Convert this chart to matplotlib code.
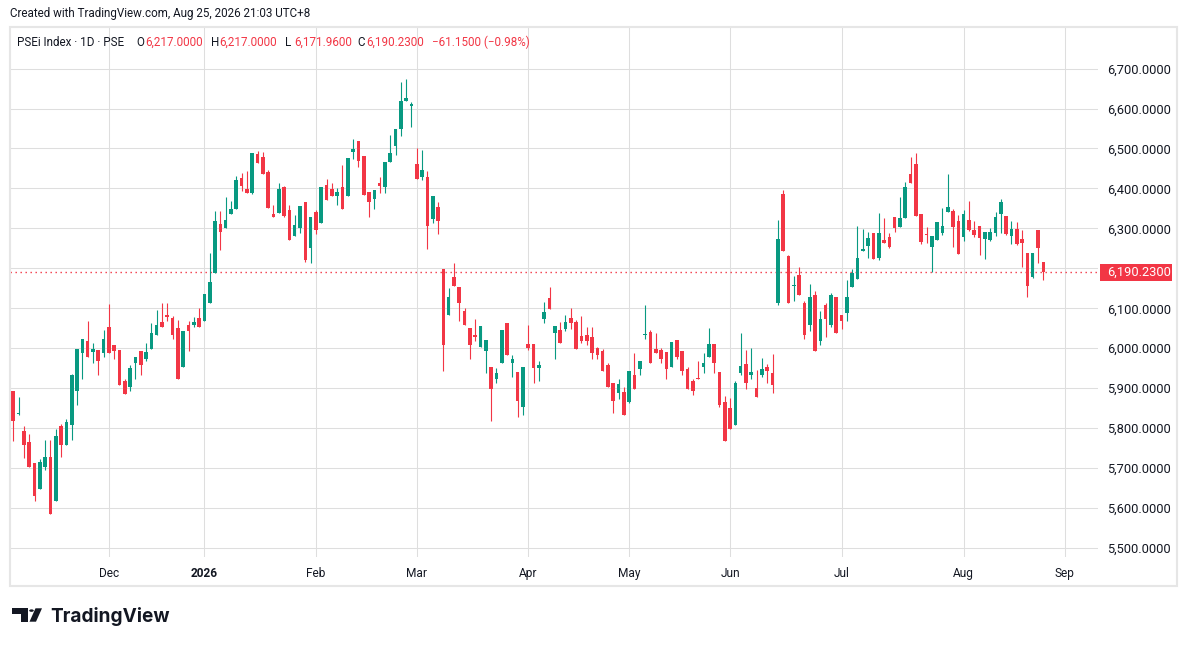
import numpy as np
import pandas as pd
import matplotlib
matplotlib.use("Agg")
import matplotlib.pyplot as plt
from matplotlib.patches import Rectangle, Polygon, Circle
from matplotlib.transforms import blended_transform_factory

# daily candles, PSEi, 5 Nov 2025 .. 25 Aug 2026
opens = [
    5893, 5836, 5793, 5766, 5713, 5647, 5704, 5728, 5617, 5806,
    5757, 5807, 5894, 5987, 6018, 5990, 5996, 5987, 6053, 6008,
    5996, 5918, 5904, 5964, 5993, 5974, 5999, 6034, 6066, 6084,
    6076, 6051, 5952, 6058, 6059, 6076, 6067, 6114, 6189, 6311,
    6302, 6337, 6349, 6426, 6398, 6389, 6486, 6478, 6441, 6336,
    6339, 6403, 6346, 6282, 6301, 6366, 6252, 6341, 6314, 6408,
    6398, 6382, 6403, 6382, 6492, 6519, 6481, 6391, 6374, 6413,
    6404, 6467, 6506, 6548, 6619, 6607, 6461, 6429, 6428, 6324,
    6354, 6198, 6084, 6178, 6153, 6093, 6051, 6034, 6004, 5994,
    5953, 5922, 5962, 6063, 5964, 5941, 5852, 6010, 6011, 5950,
    6074, 6126, 6037, 6046, 6048, 6076, 6066, 6031, 6033, 6028,
    6001, 5993, 5959, 5914, 5887, 5891, 5866, 5932, 5947, 6033,
    6041, 5999, 5996, 5991, 5954, 6021, 5993, 5949, 5917, 5923,
    5954, 5979, 6011, 5940, 5866, 5851, 5809, 5939, 5961, 5932,
    5901, 5934, 5953, 5938, 6114, 6386, 6232, 6156, 6184, 6112,
    6057, 6132, 6019, 6109, 6057, 6129, 6084, 6087, 6154, 6174,
    6244, 6257, 6288, 6227, 6272, 6278, 6328, 6304, 6327, 6436,
    6461, 6336, 6286, 6254, 6272, 6289, 6342, 6343, 6318, 6279,
    6321, 6296, 6306, 6274, 6272, 6289, 6337, 6332, 6282, 6298,
    6273, 6238, 6179, 6296, 6217,
]
highs = [
    5893, 5878, 5806, 5786, 5713, 5723, 5771, 5771, 5798, 5811,
    5823, 5936, 5998, 6023, 6068, 6013, 5996, 6046, 6111, 6008,
    5996, 5924, 5957, 5978, 5993, 6013, 6064, 6096, 6113, 6113,
    6081, 6071, 6043, 6067, 6078, 6101, 6136, 6238, 6343, 6343,
    6378, 6368, 6431, 6438, 6443, 6488, 6493, 6491, 6446, 6358,
    6413, 6406, 6358, 6333, 6356, 6366, 6328, 6346, 6403, 6423,
    6413, 6401, 6458, 6476, 6523, 6519, 6481, 6391, 6396, 6429,
    6466, 6534, 6548, 6666, 6673, 6616, 6501, 6496, 6443, 6381,
    6366, 6198, 6151, 6213, 6153, 6101, 6051, 6073, 6055, 6020,
    5953, 5951, 6046, 6063, 5982, 5941, 5952, 6058, 6011, 5969,
    6116, 6153, 6056, 6066, 6083, 6101, 6071, 6081, 6053, 6053,
    6003, 5998, 5962, 5914, 5922, 5902, 5944, 5989, 5969, 6109,
    6046, 6037, 6001, 5991, 6016, 6021, 5993, 5952, 5922, 5969,
    5988, 6051, 6011, 5940, 5881, 5876, 5918, 6038, 5996, 6001,
    5946, 5976, 5961, 5986, 6321, 6396, 6234, 6182, 6204, 6117,
    6162, 6144, 6094, 6114, 6137, 6129, 6084, 6172, 6199, 6306,
    6299, 6291, 6288, 6338, 6326, 6288, 6328, 6378, 6416, 6478,
    6488, 6336, 6303, 6281, 6316, 6351, 6436, 6348, 6333, 6346,
    6368, 6318, 6306, 6291, 6301, 6341, 6373, 6332, 6318, 6316,
    6296, 6238, 6238, 6296, 6217,
]
lows = [
    5767, 5832, 5726, 5704, 5617, 5647, 5694, 5584, 5617, 5727,
    5757, 5771, 5857, 5922, 5977, 5962, 5932, 5977, 5989, 5974,
    5907, 5886, 5892, 5924, 5932, 5967, 5999, 6034, 6054, 6067,
    6022, 5922, 5952, 5992, 6052, 6052, 6067, 6114, 6189, 6247,
    6302, 6337, 6349, 6394, 6389, 6386, 6464, 6437, 6352, 6329,
    6339, 6328, 6272, 6282, 6289, 6217, 6214, 6286, 6314, 6372,
    6382, 6359, 6349, 6382, 6474, 6454, 6384, 6329, 6349, 6389,
    6389, 6467, 6484, 6532, 6619, 6554, 6424, 6422, 6249, 6314,
    6287, 5942, 6084, 6157, 6069, 6059, 5972, 6017, 6002, 5937,
    5819, 5914, 5962, 5984, 5929, 5827, 5832, 5995, 5914, 5919,
    6064, 6097, 5974, 6012, 6044, 6047, 5998, 6014, 6009, 5972,
    5972, 5944, 5902, 5837, 5872, 5834, 5864, 5899, 5932, 6023,
    5962, 5987, 5962, 5922, 5954, 5972, 5932, 5897, 5882, 5922,
    5939, 5979, 5937, 5854, 5769, 5799, 5807, 5932, 5899, 5924,
    5879, 5929, 5914, 5887, 6107, 6244, 6114, 6119, 6134, 6022,
    6042, 5992, 6007, 6027, 6052, 6037, 6047, 6069, 6154, 6174,
    6244, 6227, 6224, 6222, 6264, 6252, 6292, 6304, 6327, 6414,
    6332, 6262, 6264, 6192, 6272, 6284, 6342, 6254, 6237, 6269,
    6294, 6279, 6234, 6224, 6269, 6282, 6289, 6284, 6262, 6259,
    6204, 6127, 6177, 6214, 6171.96,
]
closes = [
    5819, 5838, 5759, 5704, 5629, 5716, 5728, 5584, 5781, 5757,
    5816, 5933, 5998, 6023, 5977, 5997, 5969, 6023, 5989, 5994,
    5907, 5886, 5951, 5978, 5959, 5991, 6038, 6058, 6054, 6079,
    6032, 5922, 6043, 6042, 6066, 6052, 6136, 6166, 6318, 6292,
    6321, 6348, 6421, 6407, 6389, 6488, 6464, 6437, 6352, 6329,
    6398, 6331, 6272, 6308, 6356, 6222, 6328, 6297, 6403, 6372,
    6382, 6391, 6349, 6476, 6498, 6469, 6384, 6367, 6396, 6407,
    6466, 6488, 6548, 6618, 6626, 6611, 6424, 6446, 6307, 6381,
    6319, 6007, 6128, 6157, 6114, 6059, 6007, 6027, 6055, 6020,
    5899, 5938, 6046, 5984, 5973, 5869, 5952, 6000, 5950, 5958,
    6091, 6097, 6056, 6012, 6066, 6064, 5998, 6017, 6018, 5989,
    5984, 5944, 5902, 5867, 5911, 5834, 5944, 5899, 5969, 6036,
    5962, 5987, 5972, 5947, 6016, 5977, 5942, 5897, 5894, 5922,
    5963, 6011, 5964, 5859, 5769, 5799, 5913, 5956, 5912, 5941,
    5879, 5948, 5942, 5909, 6273, 6244, 6114, 6158, 6134, 6034,
    6129, 5992, 6074, 6072, 6134, 6037, 6069, 6127, 6189, 6227,
    6249, 6277, 6224, 6288, 6264, 6254, 6302, 6326, 6403, 6414,
    6332, 6267, 6283, 6281, 6316, 6306, 6353, 6304, 6237, 6336,
    6297, 6283, 6277, 6291, 6291, 6328, 6366, 6287, 6298, 6262,
    6264, 6157, 6238, 6252, 6190.23,
]

# PSE market holidays in the window
holidays = [
    "2025-12-08", "2025-12-24", "2025-12-25", "2025-12-30", "2025-12-31",
    "2026-01-01", "2026-02-17", "2026-03-20", "2026-04-02", "2026-04-03",
    "2026-04-09", "2026-05-01", "2026-05-27", "2026-06-12", "2026-08-21",
    "2026-08-31",
]
price_levels = [5500, 5600, 5700, 5800, 5900, 6000, 6100, 6200,
                6300, 6400, 6500, 6600, 6700]

title = "PSEi Index \u00b7 1D \u00b7 PSE"
created = "Created with TradingView.com, Aug 25, 2026 21:03 UTC+8"
change_txt = "\u221261.1500 (\u22120.98%)"

GREEN = "#089981"
RED = "#F23645"
TXT = "#131722"
GRID = "#dedede"

W, H = 1187, 646
plt.rcParams["font.family"] = ["Roboto", "DejaVu Sans"]

dates = pd.bdate_range("2025-11-05", "2026-09-30")
dates = dates[~dates.isin(pd.to_datetime(holidays))]

o = np.array(opens, dtype=float)
h = np.array(highs, dtype=float)
l = np.array(lows, dtype=float)
c = np.array(closes, dtype=float)
x = np.arange(len(o))

fig = plt.figure(figsize=(W / 100, H / 100), dpi=100)
fig.patch.set_facecolor("white")

# pane in pixels: x 10..1098, y 27..557
pl, pr, pt, pb = 10, 1098, 27, 557
ax = fig.add_axes([pl / W, 1 - pb / H, (pr - pl) / W, (pb - pt) / H])
ymin, ymax = 5477.5, 6804
ax.set_xlim(-0.62, 204.3)
ax.set_ylim(ymin, ymax)
for s in ax.spines.values():
    s.set_visible(False)

# month ticks at first trading day of each month
tick_pos, tick_lab, tick_bold = [], [], []
for i in range(1, len(dates)):
    if dates[i].month != dates[i - 1].month and i < 204:
        tick_pos.append(i)
        if dates[i].month == 1:
            tick_lab.append(str(dates[i].year))
            tick_bold.append(True)
        else:
            tick_lab.append(dates[i].strftime("%b"))
            tick_bold.append(False)

ax.set_xticks(tick_pos)
ax.set_xticklabels(tick_lab)
for t, b in zip(ax.get_xticklabels(), tick_bold):
    if b:
        t.set_fontweight("bold")
ax.set_yticks(price_levels)
ax.set_yticklabels([f"{v:,.4f}" for v in price_levels])
ax.yaxis.tick_right()
ax.tick_params(axis="y", length=0, pad=6.5, labelsize=9.3, labelcolor=TXT)
ax.tick_params(axis="x", length=0, pad=7, labelsize=8.6, labelcolor=TXT)
ax.grid(True, color=GRID, linewidth=0.75)
ax.set_axisbelow(True)

cols = np.where(c >= o, GREEN, RED)
ax.vlines(x, l, h, colors=cols, linewidth=0.8, zorder=2)
body_lo = np.minimum(o, c)
body_h = np.maximum(np.abs(c - o), 2.5)
ax.bar(x, body_h, bottom=body_lo, width=0.68, color=cols, linewidth=0, zorder=3)

# last price line + label
last = c[-1]
ax.axhline(last, color=RED, linewidth=1.0, linestyle=(0, (1, 2.6)), zorder=1)
ppp = (ymax - ymin) / (pb - pt)
bt = blended_transform_factory(ax.transAxes, ax.transData)
ax.add_patch(Rectangle(((1100 - pl) / (pr - pl), last - 8.4 * ppp), 72 / (pr - pl),
                       16.8 * ppp, transform=bt, facecolor=RED, edgecolor="none",
                       clip_on=False, zorder=5))
ax.text((1107 - pl) / (pr - pl), last, f"{last:,.4f}", transform=bt, color="white",
        fontsize=9.3, ha="left", va="center", clip_on=False, zorder=6)

def fx(px):
    return px / W

def fy(py):
    return 1 - py / H

# frame
fig.add_artist(Rectangle((fx(10), fy(586)), (1177 - 10) / W, (586 - 27) / H,
                         transform=fig.transFigure, fill=False,
                         edgecolor="#e6e6e6", linewidth=1.5))

fig.text(fx(10), fy(14), created, fontsize=8.4, color=TXT, va="center", ha="left")

# legend line
hy = fy(42)
fig.text(fx(17), hy, title, fontsize=8.4, color=TXT, va="center")
legend_items = [("O", opens[-1], 136), ("H", highs[-1], 210.5),
                ("L", lows[-1], 285), ("C", closes[-1], 357.5)]
for key, val, px in legend_items:
    fig.text(fx(px), hy, key, fontsize=8.4, color=TXT, va="center")
    fig.text(fx(px + 9), hy, f"{val:,.4f}", fontsize=8.4, color=RED, va="center")
fig.text(fx(432), hy, change_txt, fontsize=8.4, color=RED, va="center")

# TradingView logo
logo = "#131722"
fig.add_artist(Polygon([(fx(11.7), fy(608.3)), (fx(28.3), fy(608.3)), (fx(28.3), fy(621.7)),
                        (fx(20.7), fy(621.7)), (fx(20.7), fy(613.5)), (fx(11.7), fy(613.5))],
                       closed=True, transform=fig.transFigure, facecolor=logo, edgecolor="none"))
fig.add_artist(Circle((fx(31.5), fy(610.6)), 2.3 / W, transform=fig.transFigure,
                      facecolor=logo, edgecolor="none"))
fig.add_artist(Polygon([(fx(35.5), fy(608.3)), (fx(42), fy(608.3)), (fx(36), fy(621.7)),
                        (fx(29.5), fy(621.7))],
                       closed=True, transform=fig.transFigure, facecolor=logo, edgecolor="none"))
fig.text(fx(50), fy(622), "TradingView", fontsize=13.7, fontweight="bold", color=logo,
         family=["Inter", "DejaVu Sans"], va="baseline", ha="left")

fig.savefig("out.png", dpi=100, facecolor="white")
